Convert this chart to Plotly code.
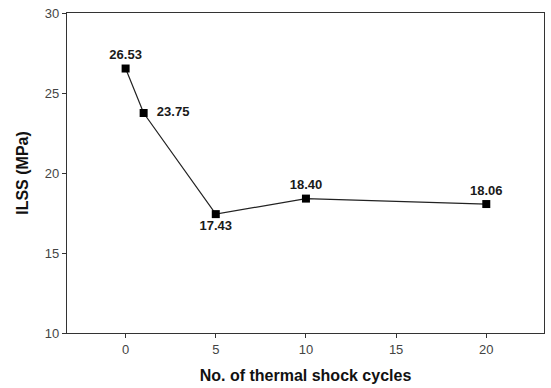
import plotly.graph_objects as go

cycles = [0, 1, 5, 10, 20]
ilss = [26.53, 23.75, 17.43, 18.40, 18.06]
labels = ["26.53", "23.75", "17.43", "18.40", "18.06"]
positions = ["top center", "middle right", "bottom center", "top center", "top center"]

fig = go.Figure()
fig.add_trace(go.Scatter(
    x=cycles, y=ilss, mode="lines+markers+text",
    line=dict(color="#222222", width=1.2),
    marker=dict(symbol="square", size=8, color="black"),
    text=["  <b>" + t + "</b>" if p == "middle right" else "<b>" + t + "</b>"
          for t, p in zip(labels, positions)],
    textposition=positions,
    textfont=dict(family="Liberation Sans, Arial", size=13, color="#1a1a1a"),
    cliponaxis=False,
    showlegend=False,
))

axis_common = dict(
    showline=True, linecolor="#333333", linewidth=1.2, mirror=True,
    ticks="outside", ticklen=4, tickcolor="#333333", showgrid=False, zeroline=False,
    tickfont=dict(family="Liberation Sans, Arial", size=13, color="#444444"),
)
fig.update_xaxes(range=[-3.25, 23.2], tickvals=[0, 5, 10, 15, 20],
                 title=dict(text="<b>No. of thermal shock cycles</b>", standoff=14,
                            font=dict(family="Liberation Sans, Arial", size=16, color="#111111")),
                 **axis_common)
fig.update_yaxes(range=[10, 30], tickvals=[10, 15, 20, 25, 30],
                 title=dict(text="<b>ILSS (MPa)</b>", standoff=12,
                            font=dict(family="Liberation Sans, Arial", size=16, color="#111111")),
                 **axis_common)
fig.update_layout(
    width=551, height=388,
    margin=dict(l=67, r=6, t=11, b=55),
    plot_bgcolor="white", paper_bgcolor="white",
)
fig.write_html("out.html")
